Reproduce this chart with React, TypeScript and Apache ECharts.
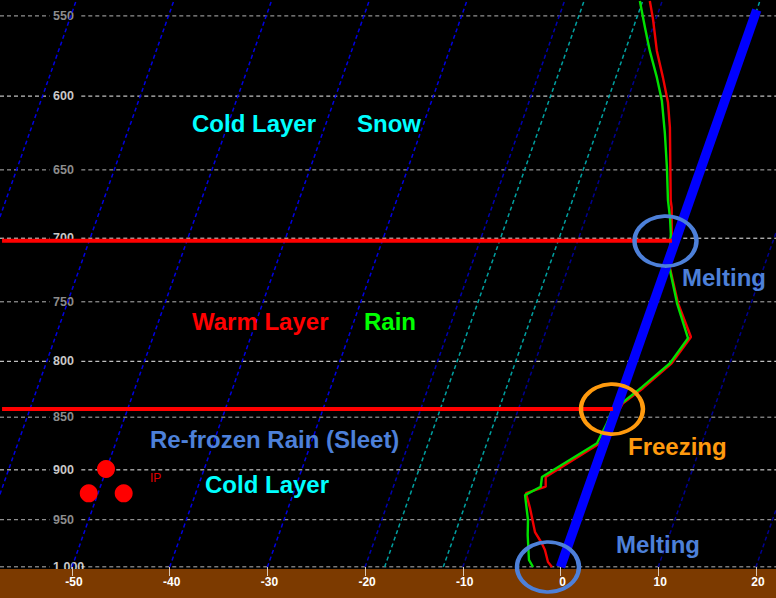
import React, { useEffect, useRef } from "react";
import * as echarts from "echarts";

const temperatureTicks = [-50, -40, -30, -20, -10, 0, 10, 20];
const pressureLevels = [550, 600, 650, 700, 750, 800, 850, 900, 950, 1000];
const isotherms = [-70, -60, -50, -40, -30, -20, -10, 10, 20];
const teelines = [-18, -12, 0];

const tempPressure = [1000, 994.6, 981.8, 974.3, 962.8, 938, 923, 916.6, 907, 874.3, 837.2, 823.7, 801.7, 779.2, 751.2, 723.3, 701.6, 677, 671.9, 620.8, 604.2, 588.1, 571.3, 551.7, 541.2];
const tempValues = [-0.87, -1.46, -2.2, -2.79, -3.87, -5.25, -6.2, -4.41, -4.76, -0.42, 0.49, 2.0, 4.03, 5.06, 2.52, 0.44, -0.4, -1.59, -1.94, -4.65, -5.75, -7.16, -8.75, -10.31, -11.27];
const dewPressure = [1000, 992.4, 965.9, 950.3, 925, 916.6, 907, 874.3, 855.7, 843.5, 836.3, 822.8, 801.7, 780.2, 751.2, 723.3, 696.5, 684.4, 671.9, 648.4, 625, 603, 588.1, 571.3, 557, 541.2];
const dewValues = [-2.81, -3.48, -4.51, -5.02, -6.22, -4.92, -5.14, -0.73, -0.43, -0.39, 0.45, 1.85, 3.86, 4.8, 2.42, 0.4, -0.73, -1.4, -2.22, -3.51, -4.94, -6.44, -7.78, -9.47, -10.81, -12.29];

const layerTops: [number, number][] = [[702, 11.41], [842.6, 5.37]];
const freezingLevelTop = 546.5;
const pelletSymbols: [number, number][] = [[-46.52, 899.2], [-48.29, 923.2], [-44.71, 923.2]];
const rings: { x: number; p: number; color: string }[] = [
  { x: 10.75, p: 702.2, color: "#4d80d9" },
  { x: 5.27, p: 842.6, color: "#ff9a0e" },
  { x: -1.28, p: 1000, color: "#4d80d9" },
];

const texts: { t: string; x: number; y: number; c: string; size?: number; weight?: string }[] = [
  { t: "Cold Layer", x: 192, y: 123, c: "#00ffff" },
  { t: "Snow", x: 357, y: 123, c: "#00ffff" },
  { t: "Melting", x: 682, y: 277, c: "#4d80d9" },
  { t: "Warm Layer", x: 192, y: 321, c: "#ff0000" },
  { t: "Rain", x: 364, y: 321, c: "#00ff00" },
  { t: "Re-frozen Rain (Sleet)", x: 150, y: 439, c: "#4d80d9" },
  { t: "Freezing", x: 628, y: 446, c: "#ff9a0e" },
  { t: "Cold Layer", x: 205, y: 484, c: "#00ffff" },
  { t: "Melting", x: 616, y: 544, c: "#4d80d9" },
  { t: "IP", x: 150, y: 478, c: "#e00000", size: 12, weight: "normal" },
];

const X_MIN = -57.37;
const X_MAX = 22.06;
const P_TOP = 540.6;
const SKEW = 33.25;
const skew = (t: number, p: number) => t + SKEW * Math.log(1000 / p);
const FONT = '"Liberation Sans", Arial, sans-serif';

const silent = { silent: true, symbol: "none", animation: false } as const;
const lineSeries = (data: number[][], color: string, width: number, z: number, dash?: number[]) => ({
  ...silent,
  type: "line",
  data,
  z,
  lineStyle: { color, width, type: dash || "solid" },
});
const major = (p: number) => p % 100 === 0;

export default function App() {
  const ref = useRef<HTMLDivElement>(null);
  useEffect(() => {
    const chart = echarts.init(ref.current!, undefined, { renderer: "svg" });
    const grids = pressureLevels.flatMap((p) =>
      [[X_MIN, -52.3], [-49.05, X_MAX]].map(([a, b]) =>
        lineSeries([[a, p], [b, p]], major(p) ? "#f0f0f0" : "#b4b4b4", 1, 2, [4, 3])
      )
    );
    const isoSeries = isotherms.map((t) =>
      lineSeries(
        [[skew(t, 1000), 1000], [skew(t, P_TOP), P_TOP]],
        t >= -10 ? "#000090" : t === -20 ? "#0000b0" : "#0000e0",
        1.5,
        3,
        [4, 3]
      )
    );
    const teeSeries = teelines.map((t) =>
      lineSeries([[skew(t, 1000), 1000], [skew(t, P_TOP), P_TOP]], "#00a0a0", 1.5, 3, [4, 3])
    );
    chart.setOption({
      animation: false,
      backgroundColor: "#000000",
      grid: { left: 0, right: 0, top: 0, bottom: 31 },
      xAxis: {
        type: "value",
        min: X_MIN,
        max: X_MAX,
        z: 5,
        splitLine: { show: false },
        axisLine: { show: false },
        axisTick: { show: true, customValues: temperatureTicks, length: 9, lineStyle: { color: "#d8c8b8", width: 1 } },
        axisLabel: {
          customValues: temperatureTicks,
          color: "#ffffff",
          fontFamily: FONT,
          fontWeight: "bold",
          fontSize: 12,
          margin: 9,
          padding: [0, 0, 0, 4],
        },
      },
      yAxis: {
        type: "log",
        logBase: 10,
        inverse: true,
        min: P_TOP,
        max: 1000,
        z: 0,
        splitLine: { show: false },
        axisLine: { show: false },
        axisTick: { show: false, customValues: pressureLevels },
        axisLabel: {
          inside: true,
          customValues: pressureLevels,
          margin: 53,
          fontFamily: FONT,
          fontWeight: "bold",
          fontSize: 12.5,
          color: (v: number) => (major(v) ? "#c8c8c8" : "#8c8c8c"),
        },
      },
      graphic: [
        { type: "rect", shape: { x: 0, y: 569, width: 776, height: 29 }, style: { fill: "#7c3a00" }, z: 1, silent: true },
        ...texts.map((d) => ({
          type: "text",
          x: d.x,
          y: d.y,
          z: 20,
          silent: true,
          style: {
            text: d.t,
            fill: d.c,
            font: `${d.weight || "bold"} ${d.size || 24}px ${FONT}`,
            verticalAlign: "middle",
          },
        })),
      ],
      series: [
        ...grids,
        ...isoSeries,
        ...teeSeries,
        lineSeries(tempPressure.map((p, i) => [skew(tempValues[i], p), p]), "#f00000", 2.4, 6),
        lineSeries(dewPressure.map((p, i) => [skew(dewValues[i], p), p]), "#00e000", 2.4, 7),
        lineSeries([[skew(0, 1000), 1000], [skew(0, freezingLevelTop), freezingLevelTop]], "#0000ff", 9.5, 8),
        ...layerTops.map(([p, x]) => lineSeries([[-57.16, p], [x, p]], "#ff0000", 4, 9)),
        {
          type: "scatter",
          silent: true,
          z: 10,
          clip: false,
          symbol: "circle",
          symbolSize: 18,
          data: pelletSymbols,
          itemStyle: { color: "#ff0000", opacity: 1 },
        },
        ...rings.map((r) => ({
          type: "scatter",
          silent: true,
          z: 11,
          clip: false,
          symbol: "circle",
          symbolSize: [62, 50],
          data: [[r.x, r.p]],
          itemStyle: { color: "rgba(0,0,0,0)", borderColor: r.color, borderWidth: 4, opacity: 1 },
        })),
      ],
    });
    return () => chart.dispose();
  }, []);
  return <div ref={ref} style={{ position: "absolute", left: 0, top: 0, width: 776, height: 598 }} />;
}
